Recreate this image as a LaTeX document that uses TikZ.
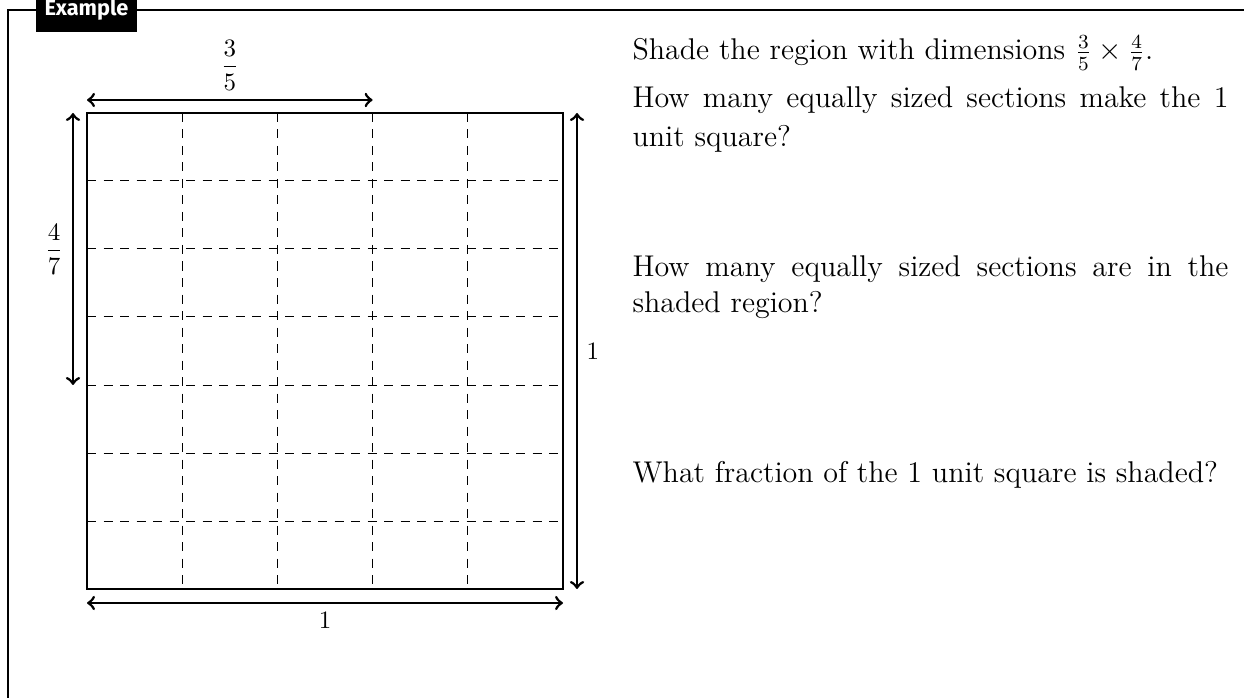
\documentclass[tikz,border=0pt]{standalone}
\usepackage{amsmath}
\usepackage{fontspec}
\newfontfamily\examplefont{Fira Sans}
\begin{document}
\begin{tikzpicture}[x=0.4pt,y=-0.4pt,
  dim/.style={line width=1.1pt,<->},
  gridline/.style={line width=0.4pt,dash pattern=on 3.6pt off 3pt},
  qtext/.style={anchor=base west,inner sep=0pt,font=\fontsize{12}{14}\selectfont},
  lbl/.style={font=\normalsize},
  tag/.style={fill=black,text=white,inner sep=0pt,minimum width=40.4pt,minimum height=17.6pt,
    font=\examplefont\bfseries\fontsize{8.7}{10}\selectfont}]
\useasboundingbox (0,0) rectangle (1244,698);
% frame
\coordinate (fbl) at (8,730);
\coordinate (ftl) at (8,10);
\coordinate (ftr) at (1270,10);
\draw[line width=0.8pt] (fbl) -- (ftl) -- (ftr);
\node[tag] (ex) at (86.5,10) {Example};
% square and grid
\coordinate (sqnw) at (87,113);
\coordinate (sqse) at (563,589);
\foreach \i in {1,...,4}
  \draw[gridline] (87+95.2*\i,113) -- (87+95.2*\i,589);
\foreach \j in {1,...,6}
  \draw[gridline] (87,113+68*\j) -- (563,113+68*\j);
\draw[line width=0.5pt] (sqnw) rectangle (sqse);
% dimension arrows
\coordinate (ta) at (87,100);
\coordinate (tb) at (372.6,100);
\draw[dim] (ta) -- node[above,lbl] (l35) {$\dfrac{3}{5}$} (tb);
\coordinate (la) at (73,113);
\coordinate (lb) at (73,385);
\draw[dim] (la) -- node[left,lbl] (l47) {$\dfrac{4}{7}$} (lb);
\coordinate (ra) at (577,113);
\coordinate (rb) at (577,589);
\draw[dim] (ra) -- node[right,lbl] (lr1) {$1$} (rb);
\coordinate (ba) at (87,603);
\coordinate (bb) at (563,603);
\draw[dim] (ba) -- node[below,lbl] (lb1) {$1$} (bb);
% questions
\node[qtext] (q1) at (632,60) {Shade the region with dimensions $\frac{3}{5}\times\frac{4}{7}$.};
\node[qtext] (q2a) at (632,108) {\makebox[238.4pt][s]{How many equally sized sections make the 1}};
\node[qtext] (q2b) at (632,147) {unit square?};
\node[qtext] (q3a) at (632,277) {\makebox[238.4pt][s]{How many equally sized sections are in the}};
\node[qtext] (q3b) at (632,313) {shaded region?};
\node[qtext] (q4) at (632,482) {What fraction of the 1 unit square is shaded?};
\end{tikzpicture}
\end{document}
